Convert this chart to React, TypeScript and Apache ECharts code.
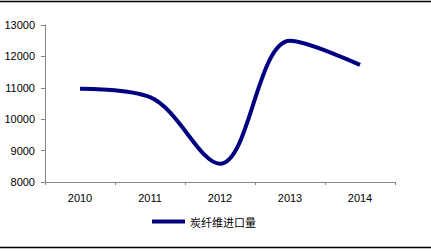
import React, { useEffect, useRef } from "react";
import * as echarts from "echarts";

const categories = ["2010", "2011", "2012", "2013", "2014"];
const seriesName = "炭纤维进口量";
const values = [10970, 10700, 8580, 12500, 11730];
const yMin = 8000;
const yMax = 13000;
const yInterval = 1000;

export default function App() {
  const ref = useRef<HTMLDivElement>(null);
  useEffect(() => {
    if (!ref.current) return;
    const chart = echarts.init(ref.current, null, { renderer: "svg" });
    chart.setOption({
      animation: false,
      backgroundColor: "#ffffff",
      textStyle: { fontFamily: "Liberation Sans, Arial, sans-serif" },
      grid: { left: 45, right: 36, top: 25, bottom: 69, containLabel: false },
      legend: {
        left: 147,
        top: 211,
        icon: "rect",
        itemWidth: 33,
        itemHeight: 4,
        itemGap: 4,
        textStyle: { fontSize: 11, color: "#000", fontFamily: "Noto Sans CJK SC" },
        data: [seriesName],
      },
      xAxis: {
        type: "category",
        data: categories,
        boundaryGap: true,
        axisLine: { lineStyle: { color: "#868686", width: 1 } },
        axisTick: { show: true, length: 3, lineStyle: { color: "#868686" } },
        axisLabel: { color: "#000", fontSize: 11, margin: 10 },
      },
      yAxis: {
        type: "value",
        min: yMin,
        max: yMax,
        interval: yInterval,
        splitLine: { show: false },
        axisLine: { show: true, lineStyle: { color: "#868686", width: 1 } },
        axisTick: { show: true, length: 4, lineStyle: { color: "#868686" } },
        axisLabel: { color: "#000", fontSize: 11, margin: 10, formatter: (v: number) => String(v) },
      },
      graphic: [
        { type: "line", shape: { x1: 0, y1: 1.5, x2: 431, y2: 1.5 }, style: { stroke: "#000", lineWidth: 1.5 } },
        { type: "line", shape: { x1: 0, y1: 247.5, x2: 431, y2: 247.5 }, style: { stroke: "#000", lineWidth: 1.5 } },
      ],
      series: [
        {
          name: seriesName,
          type: "line",
          data: values,
          smooth: 0.35,
          showSymbol: false,
          symbol: "none",
          lineStyle: { color: "#000080", width: 4 },
          itemStyle: { color: "#000080" },
        },
      ],
    });
    return () => chart.dispose();
  }, []);
  return (
    <div
      ref={ref}
      style={{ position: "fixed", left: 0, top: 0, width: 431, height: 251 }}
    />
  );
}
